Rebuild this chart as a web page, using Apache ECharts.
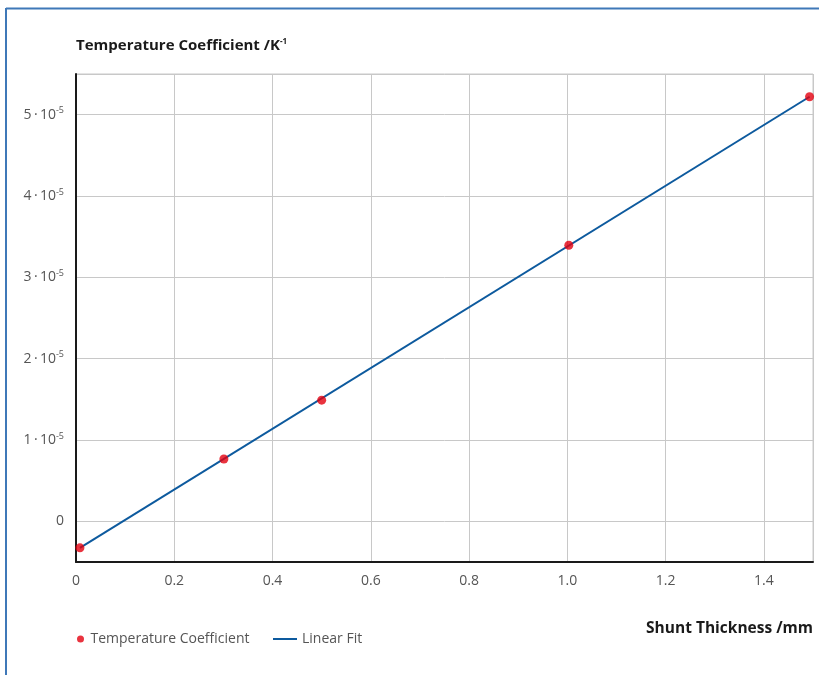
<!DOCTYPE html>
<html>
<head>
<meta charset="utf-8">
<script src="https://cdn.jsdelivr.net/npm/echarts@6/dist/echarts.min.js"></script>
<style>
html,body{margin:0;padding:0;background:#fff;overflow:hidden;width:819px;height:675px;}
#main{position:absolute;left:0;top:0;width:819px;height:675px;}
</style>
</head>
<body>
<div id="main"></div>
<script>
// Data
const thickness = [0.008, 0.301, 0.5, 1.003, 1.493];           // mm
const tempCoeff = [-0.326e-5, 0.766e-5, 1.49e-5, 3.395e-5, 5.22e-5]; // 1/K
const fitX = [0.008, 1.493];
const fitY = [-0.326e-5, 5.22e-5];
const xTicks = [0, 0.2, 0.4, 0.6, 0.8, 1.0, 1.2, 1.4];
const yTickExponents = [0, 1, 2, 3, 4, 5];

const scatterData = thickness.map((x, i) => [x, tempCoeff[i]]);
const fitData = fitX.map((x, i) => [x, fitY[i]]);

const FONT = 'Open Sans';
const chart = echarts.init(document.getElementById('main'));

// split line colours: ticks at -0.5,0,0.5,...,5.5 (e-5); only integer ticks shown
const splitColors = [];
for (let i = 0; i <= 12; i++) splitColors.push(i % 2 === 1 || i === 12 ? '#c8c8c8' : 'rgba(0,0,0,0)');

chart.setOption({
  animation: false,
  backgroundColor: '#ffffff',
  textStyle: {fontFamily: FONT},
  graphic: [
    {type: 'line', silent: true, shape: {x1: 6, y1: 8.5, x2: 830, y2: 8.5}, style: {stroke: '#3f78b8', lineWidth: 2}},
    {type: 'line', silent: true, shape: {x1: 6, y1: 8, x2: 6, y2: 700}, style: {stroke: '#3f78b8', lineWidth: 2}}
  ],
  title: [
    {
      text: '{a|Temperature Coefficient /K}{s|-1}',
      left: 71, top: 33,
      textStyle: {
        rich: {
          a: {fontFamily: FONT, fontSize: 15, fontWeight: 'bold', color: '#1a1a1a'},
          s: {fontFamily: FONT, fontSize: 8, fontWeight: 'bold', color: '#1a1a1a', padding: [0, 0, 8, 0]}
        }
      }
    },
    {
      text: 'Shunt Thickness /mm',
      right: 1, top: 616,
      textStyle: {fontFamily: FONT, fontSize: 15.5, fontWeight: 'bold', color: '#1a1a1a'}
    }
  ],
  legend: [
    {
      data: [{name: 'Temperature Coefficient', icon: 'circle'}],
      left: 72, top: 627,
      itemWidth: 10, itemHeight: 7, itemGap: 6,
      textStyle: {fontFamily: FONT, fontSize: 14, color: '#555'}
    },
    {
      data: [{name: 'Linear Fit', icon: 'rect'}],
      left: 268, top: 627,
      itemWidth: 24, itemHeight: 2,
      textStyle: {fontFamily: FONT, fontSize: 14, color: '#555'}
    }
  ],
  grid: {
    left: 76, right: 6, top: 74, bottom: 113,
    show: true, borderColor: '#c8c8c8', borderWidth: 1,
    containLabel: false
  },
  xAxis: {
    type: 'value',
    min: 0, max: 1.5, interval: 0.2,
    axisLine: {show: true, onZero: false, lineStyle: {color: '#1a1a1a', width: 2}},
    axisTick: {show: false},
    axisLabel: {
      margin: 12, fontSize: 14, color: '#555', fontFamily: FONT,
      showMaxLabel: false,
      formatter: v => {
        const t = xTicks.find(k => Math.abs(k - v) < 1e-9);
        return t === undefined ? '' : (t === 0 ? '0' : t.toFixed(1));
      }
    },
    splitLine: {show: true, lineStyle: {color: '#c8c8c8', width: 1}}
  },
  yAxis: {
    type: 'value',
    min: -0.5e-5, max: 5.5e-5, interval: 0.5e-5,
    axisLine: {show: true, onZero: false, lineStyle: {color: '#1a1a1a', width: 2}},
    axisTick: {show: false},
    axisLabel: {
      margin: 12, color: '#555', fontFamily: FONT,
      showMinLabel: false, showMaxLabel: false,
      formatter: v => {
        const n = Math.round(v * 1e5 * 2) / 2;
        if (!yTickExponents.includes(n)) return '';
        if (n === 0) return '{b|0}';
        return '{b|' + n + '\u2009·\u200910}{s|-5}';
      },
      rich: {
        b: {fontSize: 14, color: '#555', fontFamily: FONT},
        s: {fontSize: 9, color: '#555', fontFamily: FONT, padding: [0, 0, 8, 0]}
      }
    },
    splitLine: {show: true, lineStyle: {color: splitColors, width: 1}}
  },
  series: [
    {
      name: 'Linear Fit',
      type: 'line',
      data: fitData,
      symbol: 'none',
      lineStyle: {color: '#0d5a9e', width: 2},
      itemStyle: {color: '#0d5a9e'},
      z: 2
    },
    {
      name: 'Temperature Coefficient',
      type: 'scatter',
      data: scatterData,
      symbol: 'circle',
      symbolSize: 9,
      itemStyle: {color: '#e3000f'},
      z: 3
    }
  ]
});
</script>
</body>
</html>
